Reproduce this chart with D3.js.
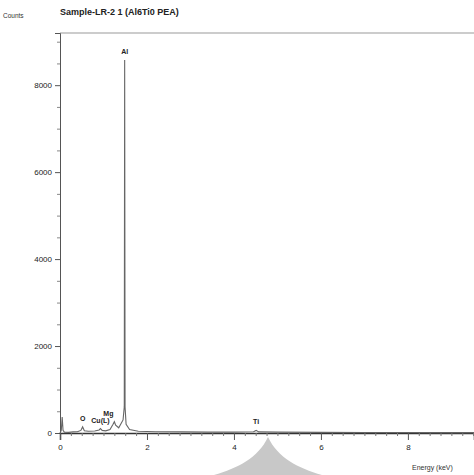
<!DOCTYPE html>
<html><head><meta charset="utf-8">
<script src="https://cdn.jsdelivr.net/npm/d3@7"></script>
<style>body{margin:0;background:#fff}svg{display:block;font-family:"Liberation Sans",Arial,sans-serif}</style>
</head><body><svg id="c" width="474" height="475"></svg>
<script>
const title = "Sample-LR-2 1 (Al6Ti0 PEA)";
const yLabel = "Counts";
const xLabel = "Energy (keV)";
const xTicks = [0, 2, 4, 6, 8];
const yTicks = [0, 2000, 4000, 6000, 8000];
// spectrum points
const energy = [0, 0.03, 0.05, 0.07, 0.1, 0.2, 0.3, 0.4, 0.48, 0.52, 0.56, 0.65, 0.8, 0.9, 0.93, 0.97, 1.05, 1.15, 1.22, 1.25, 1.28, 1.35, 1.45, 1.478, 1.487, 1.496, 1.52, 1.6, 1.8, 2.2, 2.8, 3.4, 4.0, 4.45, 4.51, 4.57, 5.0, 6.0, 7.0, 8.0, 9.0, 9.52];
const counts = [0, 60, 370, 60, 20, 15, 25, 30, 60, 140, 50, 40, 45, 70, 100, 60, 50, 80, 200, 260, 180, 120, 300, 600, 8580, 600, 200, 80, 40, 30, 25, 20, 20, 30, 60, 25, 20, 15, 12, 10, 8, 8];
const peakNames = ["O", "Cu(L)", "Mg", "Al", "Ti"];
const peakEnergy = [0.52, 0.93, 1.25, 1.487, 4.51];
const peakCounts = [140, 100, 260, 8580, 60];

const svg = d3.select("#c");
const x = d3.scaleLinear().domain([0, 9.52]).range([60, 474]);
const y = d3.scaleLinear().domain([0, 9200]).range([433, 33]);
const ax = "#555";

// watermark-like grey shape
svg.append("path")
  .attr("d", "M268,437 C258,458 238,468 214,475 L322,475 C298,468 278,458 268,437 Z")
  .attr("fill", "#c8c8c8");

// frame top
svg.append("line").attr("x1", x(0)).attr("x2", 474).attr("y1", y(9200)).attr("y2", y(9200))
  .attr("stroke", "#999").attr("stroke-width", 1);

// y axis
const yAxis = d3.axisLeft(y).tickValues(yTicks).tickSize(5).tickPadding(3).tickFormat(d3.format("d"));
const gy = svg.append("g").attr("transform", `translate(${x(0)},0)`).call(yAxis);
gy.select(".domain").attr("stroke", ax);
gy.selectAll(".tick line").attr("stroke", ax);
gy.selectAll("text").attr("font-size", 8).attr("fill", "#222");
const yMinor = d3.axisLeft(y).tickValues(d3.range(500, 9200, 500).filter(v => v % 2000)).tickSize(3).tickFormat("");
const gym = svg.append("g").attr("transform", `translate(${x(0)},0)`).call(yMinor);
gym.select(".domain").remove();
gym.selectAll(".tick line").attr("stroke", "#888");

// x axis
const xAxis = d3.axisBottom(x).tickValues(xTicks).tickSize(7).tickPadding(4).tickFormat(d3.format("d"));
const gx = svg.append("g").attr("transform", `translate(0,${y(0)})`).call(xAxis);
gx.select(".domain").attr("stroke", "#333").attr("stroke-width", 1.5);
gx.selectAll(".tick line").attr("stroke", ax);
gx.selectAll("text").attr("font-size", 8).attr("fill", "#222");
const xMinor = d3.axisBottom(x).tickValues(d3.range(0.25, 9.52, 0.25).filter(v => v % 2)).tickSize(3).tickFormat("");
const gxm = svg.append("g").attr("transform", `translate(0,${y(0)})`).call(xMinor);
gxm.select(".domain").remove();
gxm.selectAll(".tick line").attr("stroke", "#777");

// spectrum
const pts = energy.map((e, i) => [e, counts[i]]);
svg.append("path").datum(pts)
  .attr("d", d3.line().x(d => x(d[0])).y(d => y(d[1])))
  .attr("fill", "none").attr("stroke", "#666").attr("stroke-width", 1.1);

// peak labels
svg.append("g").selectAll("text").data(peakNames).join("text")
  .attr("x", (d, i) => x(peakEnergy[i]) - (d === "Mg" ? 6 : 0))
  .attr("y", (d, i) => y(peakCounts[i]) - 6)
  .attr("text-anchor", "middle").attr("font-size", 7).attr("font-weight", "bold").attr("fill", "#222")
  .text(d => d);

// titles
svg.append("text").attr("x", 60).attr("y", 15).attr("font-size", 9).attr("font-weight", "bold").attr("fill", "#222").text(title);
svg.append("text").attr("x", 3).attr("y", 18).attr("font-size", 6.5).attr("fill", "#333").text(yLabel);
svg.append("text").attr("x", 412).attr("y", 470).attr("font-size", 7).attr("fill", "#333").text(xLabel);
</script></body></html>
